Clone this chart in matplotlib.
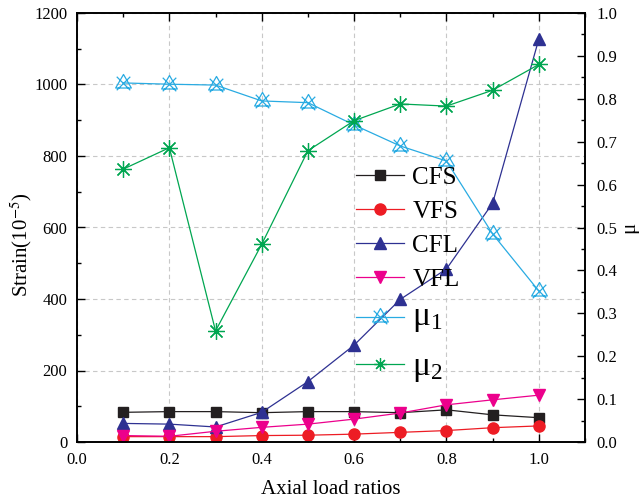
import numpy as np
import matplotlib
matplotlib.use("Agg")
import matplotlib.pyplot as plt
from matplotlib.path import Path
from matplotlib.ticker import MultipleLocator

plt.rcParams["font.family"] = ["Liberation Serif", "DejaVu Serif"]
plt.rcParams["mathtext.fontset"] = "stix"

ratios = [0.1, 0.2, 0.3, 0.4, 0.5, 0.6, 0.7, 0.8, 0.9, 1.0]
cfs = [83, 85, 85, 82, 85, 85, 82, 90, 76, 68]
vfs = [15, 15, 15, 18, 19, 22, 27, 32, 40, 45]
cfl = [52, 50, 42, 83, 169, 271, 399, 484, 668, 1127]
vfl = [18, 16, 30, 41, 50, 64, 81, 104, 118, 131]
mu1 = [0.837, 0.834, 0.832, 0.795, 0.791, 0.739, 0.69, 0.655, 0.485, 0.352]
mu2 = [0.636, 0.686, 0.259, 0.461, 0.679, 0.749, 0.788, 0.783, 0.82, 0.88]

# triangle with an x through it, hollow
tri_x = Path(
    [(0, 1), (-0.87, -0.5), (0.87, -0.5), (0, 1),
     (-0.75, -0.75), (0.75, 0.75), (-0.75, 0.75), (0.75, -0.75)],
    [Path.MOVETO, Path.LINETO, Path.LINETO, Path.CLOSEPOLY,
     Path.MOVETO, Path.LINETO, Path.MOVETO, Path.LINETO])

fig = plt.figure(figsize=(6.39, 5.03), dpi=100)
ax = fig.add_axes([77 / 639, 61 / 503, 508 / 639, 429 / 503])
ax2 = ax.twinx()

l1, = ax.plot(ratios, cfs, color="#231f20", marker="s", ms=7, lw=0.9, label="CFS")
l2, = ax.plot(ratios, vfs, color="#ed1c24", marker="o", ms=8, lw=0.9, label="VFS")
l3, = ax.plot(ratios, cfl, color="#2e3192", marker="^", ms=9, lw=0.9, label="CFL")
l4, = ax.plot(ratios, vfl, color="#ec008c", marker="v", ms=9, lw=0.9, label="VFL")
l5, = ax2.plot(ratios, mu1, color="#29abe2", marker=tri_x, ms=13, mfc="none",
               mew=0.9, lw=0.9, label=r"$\mathregular{μ_1}$")
l6, = ax2.plot(ratios, mu2, color="#00a651", marker=(8, 2, 0), ms=12, mew=0.9,
               lw=0.9, label=r"$\mathregular{μ_2}$")

ax.set_xlim(0, 1.1)
ax.set_ylim(0, 1200)
ax2.set_ylim(0, 1.0)
ax.xaxis.set_major_locator(MultipleLocator(0.2))
ax.xaxis.set_minor_locator(MultipleLocator(0.1))
ax.yaxis.set_major_locator(MultipleLocator(200))
ax.yaxis.set_minor_locator(MultipleLocator(100))
ax2.yaxis.set_major_locator(MultipleLocator(0.1))
ax2.yaxis.set_minor_locator(MultipleLocator(0.05))
ax.xaxis.set_major_formatter(plt.FormatStrFormatter("%.1f"))
ax2.yaxis.set_major_formatter(plt.FormatStrFormatter("%.1f"))

ax.tick_params(which="both", direction="in", top=True, labelsize=12, width=1, pad=7)
ax.tick_params(which="major", length=6)
ax.tick_params(which="minor", length=3)
ax2.tick_params(which="both", direction="in", labelsize=12, width=1, pad=8)
ax2.tick_params(which="major", length=6)
ax2.tick_params(which="minor", length=3)
for a in (ax, ax2):
    for s in a.spines.values():
        s.set_linewidth(1.2)

ax.grid(True, which="major", ls=(0, (4, 3)), color="#c8c8c8", lw=0.8)
ax.set_axisbelow(True)

ax.set_xlabel("Axial load ratios", fontsize=15, labelpad=9)
ax.set_ylabel(r"Strain(10$^{-5}$)", fontsize=15)
ax.yaxis.set_label_coords(-0.085, 0.46)
ax2.set_ylabel("μ", fontsize=15, labelpad=2)

leg = ax2.legend([l1, l2, l3, l4, l5], ["CFS", "VFS", "CFL", "VFL", l5.get_label()],
                 loc="upper left", bbox_to_anchor=(356 / 639, 1 - 166 / 503),
                 bbox_transform=fig.transFigure, frameon=False, fontsize=18,
                 handlelength=1.9, handletextpad=0.35, labelspacing=0.46,
                 borderpad=0, borderaxespad=0)
leg.get_texts()[4].set_fontsize(24)
ax2.add_artist(leg)

leg2 = ax2.legend([l6], [l6.get_label()],
                  loc="upper left", bbox_to_anchor=(356 / 639, 1 - 352 / 503),
                  bbox_transform=fig.transFigure, frameon=False, fontsize=24,
                  handlelength=1.9 * 18 / 24, handletextpad=0.35 * 18 / 24,
                  markerscale=0.75, borderpad=0, borderaxespad=0)

fig.savefig("out.png", dpi=100)
